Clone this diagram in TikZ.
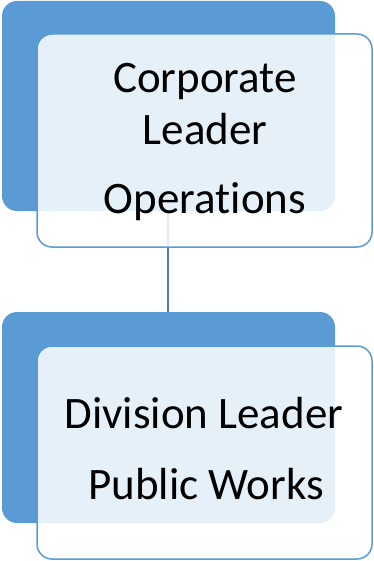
\documentclass[tikz,border=0pt]{standalone}
\usepackage{fontspec}
\setmainfont[Ligatures=NoCommon]{Carlito}
\definecolor{backblue}{HTML}{5B9BD5}
\definecolor{lineblue}{HTML}{4A7EBB}
\begin{document}
\begin{tikzpicture}[x=1pt,y=-1pt,
  backbox/.style={fill=backblue,draw=none,rounded corners=15pt},
  frontbox/.style={fill=white,fill opacity=0.85,draw=backblue,draw opacity=1,line width=1.5pt,rounded corners=15pt},
  conn/.style={draw=lineblue,line width=2pt},
  lbl/.style={anchor=base,inner sep=0pt,font=\fontsize{45}{52}\selectfont,text=black}]
\useasboundingbox (0,0) rectangle (373,561);
% back boxes
\path[backbox] (2,1) rectangle (335,211);
\coordinate (b1s) at (168,211);
\path[backbox] (2,312) rectangle (335,523);
\coordinate (b2n) at (168,312);
% connector
\draw[conn] (b1s) -- (b2n);
% front boxes
\path[frontbox] (37,34) rectangle (372,247);
\path[frontbox] (37,346) rectangle (372,559);
% labels
\node[lbl] (t1) at (205,93) {Corporate};
\node[lbl] (t2) at (205,145) {Leader};
\node[lbl] (t3) at (205,213) {Operations};
\node[lbl] (t4) at (204,428) {Division Leader};
\node[lbl] (t5) at (206,499) {Public Works};
\end{tikzpicture}
\end{document}
